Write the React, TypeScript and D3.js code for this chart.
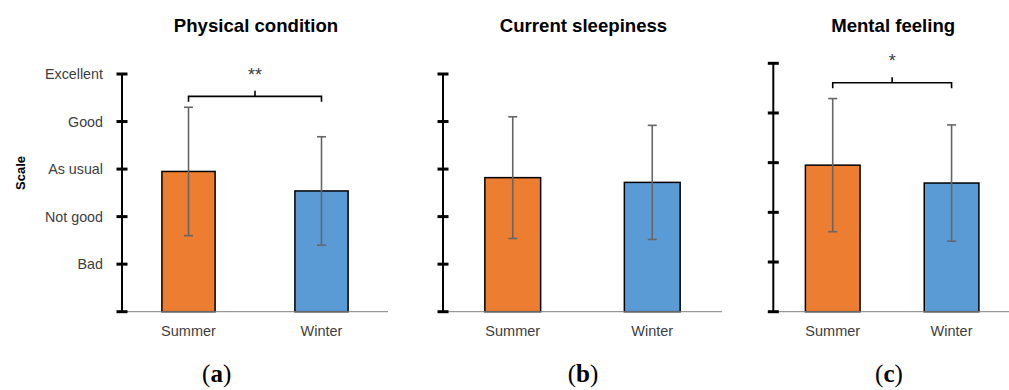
import React from "react";
import * as d3 from "d3";

const categories = ["Summer", "Winter"];
const titles = ["Physical condition", "Current sleepiness", "Mental feeling"];
const panelLetters = ["a", "b", "c"];
const physicalMean = [2.95, 2.54];
const physicalSD = [1.35, 1.14];
const sleepinessMean = [2.82, 2.72];
const sleepinessSD = [1.28, 1.2];
const mentalMean = [2.95, 2.59];
const mentalSD = [1.34, 1.17];
const yTickValues = [0, 1, 2, 3, 4, 5];
const yTickLabels = ["", "Bad", "Not good", "As usual", "Good", "Excellent"];
const significance = ["**", "", "*"];
const bracketLevel = [4.53, 0, 4.61];

const means = [physicalMean, sleepinessMean, mentalMean];
const sds = [physicalSD, sleepinessSD, mentalSD];

const layout = [
  { x0: 122, x1: 388, yTop: 74, padIn: 0.6, labels: true, letterX: 216.7 },
  { x0: 443, x1: 722, yTop: 74, padIn: 0.6, labels: false, letterX: 583 },
  { x0: 773.3, x1: 1011, yTop: 63.3, padIn: 0.54, labels: false, letterX: 889 },
];
const baseY = 311.7;
const colors = ["#ED7D31", "#5B9BD5"];
const font = "Liberation Sans, Arial, sans-serif";

function Panel({ i }: { i: number }) {
  const L = layout[i];
  const x = d3
    .scaleBand<string>()
    .domain(categories)
    .range([L.x0, L.x1])
    .paddingInner(L.padIn)
    .paddingOuter(L.padIn / 2);
  const y = d3.scaleLinear().domain([0, 5]).range([baseY, L.yTop]);
  const m = means[i];
  const s = sds[i];
  const cx = (c: string) => (x(c) as number) + x.bandwidth() / 2;
  const mid = (cx(categories[0]) + cx(categories[1])) / 2;
  const cap = 4.5;
  return (
    <g>
      <text
        x={mid + 1}
        y={31.5}
        textAnchor="middle"
        fontFamily={font}
        fontWeight="bold"
        fontSize={18.6}
        fill="#000"
      >
        {titles[i]}
      </text>
      {categories.map((c, j) => (
        <rect
          key={c}
          x={x(c)}
          y={y(m[j])}
          width={x.bandwidth()}
          height={y(0) - y(m[j])}
          fill={colors[j]}
          stroke="#000"
          strokeWidth={1.5}
        />
      ))}
      <line x1={L.x0} x2={L.x1} y1={y(0)} y2={y(0)} stroke="#7f7f7f" strokeWidth={1} />
      {categories.map((c, j) => (
        <g key={c + "e"} stroke="#666" strokeWidth={1.6}>
          <line x1={cx(c)} x2={cx(c)} y1={y(m[j] + s[j])} y2={y(m[j] - s[j])} />
          <line x1={cx(c) - cap} x2={cx(c) + cap} y1={y(m[j] + s[j])} y2={y(m[j] + s[j])} />
          <line x1={cx(c) - cap} x2={cx(c) + cap} y1={y(m[j] - s[j])} y2={y(m[j] - s[j])} />
        </g>
      ))}
      <line x1={L.x0} x2={L.x0} y1={y(0)} y2={y(5)} stroke="#000" strokeWidth={2} />
      {yTickValues.map((v) => (
        <g key={v}>
          <line x1={L.x0 - 5.5} x2={L.x0 + 5.5} y1={y(v)} y2={y(v)} stroke="#000" strokeWidth={3} />
          {L.labels && (
            <text
              x={L.x0 - 19}
              y={y(v) + 5}
              textAnchor="end"
              fontFamily={font}
              fontSize={14.3}
              fill="#404040"
            >
              {yTickLabels[v]}
            </text>
          )}
        </g>
      ))}
      {categories.map((c) => (
        <text
          key={c + "l"}
          x={cx(c)}
          y={336}
          textAnchor="middle"
          fontFamily={font}
          fontSize={14.5}
          fill="#404040"
        >
          {c}
        </text>
      ))}
      {significance[i] && (
        <g>
          <path
            d={`M${cx(categories[0])},${y(bracketLevel[i]) + 5.5}V${y(bracketLevel[i])}H${cx(
              categories[1]
            )}V${y(bracketLevel[i]) + 5.5}M${mid},${y(bracketLevel[i])}V${y(bracketLevel[i]) - 5.5}`}
            fill="none"
            stroke="#000"
            strokeWidth={1.6}
          />
          <text
            x={mid}
            y={y(bracketLevel[i]) - 15.5}
            textAnchor="middle"
            fontFamily={font}
            fontSize={18}
            fill="#404040"
          >
            {significance[i]}
          </text>
        </g>
      )}
      <text
        x={L.letterX}
        y={382}
        textAnchor="middle"
        fontFamily="Liberation Serif, 'Times New Roman', serif"
        fontSize={25}
        fill="#000"
      >
        (<tspan fontWeight="bold">{panelLetters[i]}</tspan>)
      </text>
    </g>
  );
}

export default function App() {
  return (
    <svg
      width={1009}
      height={390}
      style={{ position: "absolute", left: 0, top: 0, background: "#fff" }}
    >
      <rect width={1009} height={390} fill="#fff" />
      <text
        transform="translate(25,173) rotate(-90)"
        textAnchor="middle"
        fontFamily={font}
        fontWeight="bold"
        fontSize={13}
        fill="#000"
      >
        Scale
      </text>
      {[0, 1, 2].map((i) => (
        <Panel key={i} i={i} />
      ))}
    </svg>
  );
}
